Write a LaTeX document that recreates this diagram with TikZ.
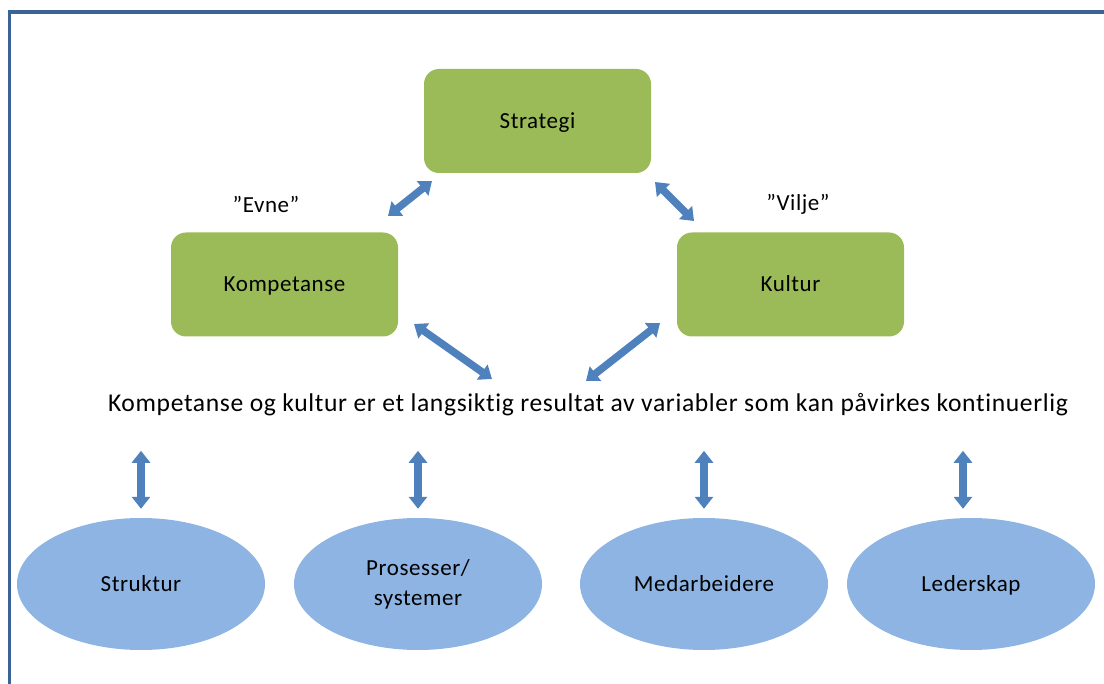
\documentclass[tikz,border=0pt]{standalone}
\usepackage{fontspec}
\setmainfont{Carlito}[Ligatures=NoCommon, LetterSpace=2.5]
\usetikzlibrary{arrows.meta,shapes.geometric}

\definecolor{boxgreen}{RGB}{155,187,89}
\definecolor{ovalblue}{RGB}{142,180,227}
\definecolor{arrowblue}{RGB}{79,129,189}
\definecolor{frameblue}{RGB}{59,100,150}

\tikzset{
  greenbox/.style={fill=boxgreen, rounded corners=15pt, minimum width=227pt, minimum height=104pt, text height=14.5pt, text depth=0pt, font=\fontsize{23}{27}\selectfont},
  blueoval/.style={ellipse, fill=ovalblue, minimum width=248pt, minimum height=132pt, inner sep=0pt, align=center, font=\fontsize{23}{30}\selectfont},
  oneline/.style={text height=14.5pt, text depth=0pt},
  dblarrow/.style={draw=arrowblue, line width=7.5pt, {Triangle[width=18pt,length=12pt]}-{Triangle[width=18pt,length=12pt]}},
  quotelabel/.style={font=\fontsize{23}{27}\selectfont},
}

\begin{document}
\begin{tikzpicture}[x=1pt,y=-1pt]
  \useasboundingbox (0,0) rectangle (1104,684);
  \draw[frameblue, line width=3.5pt] (9.5,684) |- (1104,12);

  % top part
  \node[greenbox] (strat) at (537.5,121) {Strategi};
  \node[greenbox] (komp) at (284.5,284.5) {Kompetanse};
  \node[greenbox] (kult) at (790.5,284.5) {Kultur};

  \node[quotelabel] (evne) at (266,204) {”Evne”};
  \node[quotelabel] (vilje) at (798,204) {”Vilje”};

  \node[font=\fontsize{25.6}{30}\selectfont, anchor=base] (res) at (588,411.5) {Kompetanse og kultur er et langsiktig resultat av variabler som kan påvirkes kontinuerlig};

  % bottom part
  \node[blueoval, oneline] (struk) at (141,584) {Struktur};
  \node[blueoval] (pros) at (418,584) {Prosesser/\\systemer};
  \node[blueoval, oneline] (medarb) at (704,584) {Medarbeidere};
  \node[blueoval, oneline] (leder) at (971,584) {Lederskap};

  \coordinate (komp-up) at (388,216);
  \coordinate (strat-left) at (432,181);
  \coordinate (strat-right) at (655,182);
  \coordinate (kult-up) at (694,221);
  \coordinate (komp-down) at (414,324);
  \coordinate (res-left) at (492,379);
  \coordinate (kult-down) at (660,323);
  \coordinate (res-right) at (586,381);

  \draw[dblarrow] (komp-up) -- (strat-left);
  \draw[dblarrow] (strat-right) -- (kult-up);
  \draw[dblarrow] (komp-down) -- (res-left);
  \draw[dblarrow] (kult-down) -- (res-right);

  \foreach \n in {struk,pros,medarb}
    \draw[dblarrow] ([yshift=9pt]\n.north) -- ([yshift=67pt]\n.north);
  \draw[dblarrow] ([shift={(-8pt,9pt)}]leder.north) -- ([shift={(-8pt,67pt)}]leder.north);
\end{tikzpicture}
\end{document}
